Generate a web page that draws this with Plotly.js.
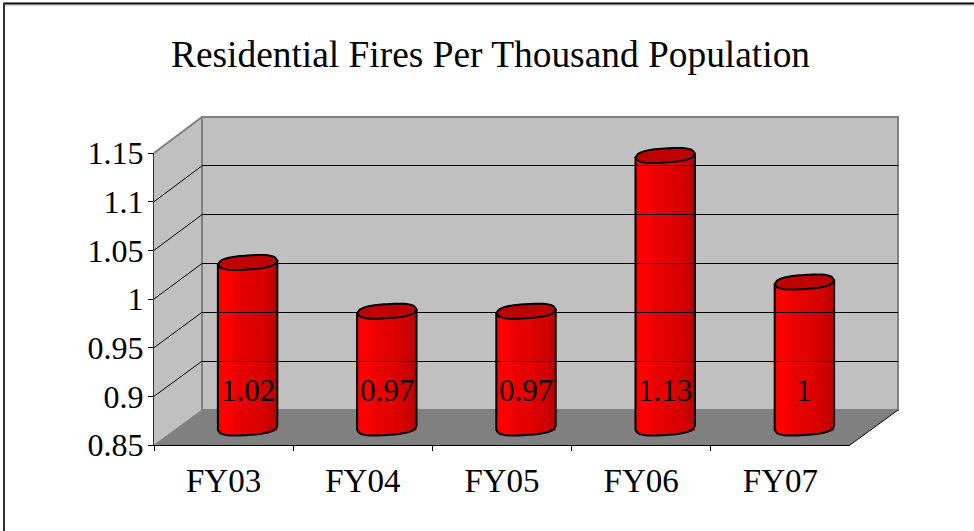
<!DOCTYPE html>
<html><head><meta charset="utf-8">
<script src="https://cdn.plot.ly/plotly-3.0.1.min.js"></script>
<style>html,body{margin:0;padding:0;background:#fff}#c{width:974px;height:531px}</style>
</head><body><div id="c"></div>
<script>
const categories = ['FY03','FY04','FY05','FY06','FY07'];
const values = [1.02,0.97,0.97,1.13,1];
const labels = ['1.02','0.97','0.97','1.13','1'];
const yTicks = [0.85,0.9,0.95,1,1.05,1.1,1.15];
const yTickText = ['0.85','0.9','0.95','1','1.05','1.1','1.15'];
const stripColors = ['#f60000','#ff0000','#ff0000','#ff0000','#fa0000','#f00000','#e80000','#e60000','#e60000','#e60000','#e40000','#e40000','#dc0000','#d80000','#d80000','#d40000','#d00000','#c80000','#c00000','#bc0000'];

const W=974,H=531, FONT='"Liberation Serif","Times New Roman",serif';
const fx=v=>v/W, fy=v=>1-v/H;
const front={l:154,r:850,t:153,b:445}, back={l:202,r:898,t:117,b:410}, mid={l:178,r:874,t:136,b:428};
const R=[0.85,1.15];
const unitPx=(front.b-front.t)/(R[1]-R[0]);
const extra=14; // room under the bar plane for the rounded cylinder bottoms
const dom=p=>({x:[fx(p.l),fx(p.r)],y:[fy(p.b),fy(p.t)]});
const midDom={x:dom(mid).x,y:[fy(mid.b+extra),fy(mid.t-extra)]};
const R2=[R[0]-extra/unitPx,R[1]+extra/unitPx];
const halfW=0.2135, ry=7/unitPx, tilt=2/unitPx, n=stripColors.length, sw=2*halfW/n;
const bulge=u=>Math.sqrt(Math.max(0,1-Math.pow(Math.abs(u),3)));
const lift=u=>-ry*bulge(u)+tilt*u;

const traces=stripColors.map((c,j)=>{
  const u=-1+(2*j+1)/n, d=lift(u);
  return {type:'bar',xaxis:'x2',yaxis:'y2',x:categories.map((_,i)=>i),
    base:values.map(()=>R[0]+d),y:values.map(v=>v-R[0]),
    width:j===n-1?sw:sw*2,offset:-halfW+j*sw,marker:{color:c,line:{width:0}},hoverinfo:'skip',showlegend:false};
});
traces.push({type:'scatter',xaxis:'x',yaxis:'y',x:categories,y:values,mode:'none',showlegend:false,hoverinfo:'skip'});
traces.push({type:'scatter',xaxis:'x3',yaxis:'y3',x:[0],y:[1],mode:'none',showlegend:false,hoverinfo:'skip'});

const poly=pts=>'M'+pts.map(p=>p[0].toFixed(4)+','+p[1].toFixed(5)).join('L');
const shapes=[];
const P=(x,y)=>fx(x)+','+fy(y);
const wall=(pts,fill)=>({type:'path',xref:'paper',yref:'paper',layer:'below',path:'M'+pts.map(p=>P(p[0],p[1])).join('L')+'Z',fillcolor:fill,line:{width:0}});
const seg=(a,b,c,w)=>({type:'line',xref:'paper',yref:'paper',layer:'below',x0:fx(a[0]),y0:fy(a[1]),x1:fx(b[0]),y1:fy(b[1]),line:{color:c,width:w}});
shapes.push(wall([[front.l,front.b],[back.l,back.b],[back.r,back.b],[front.r,front.b]],'#808080'));
shapes.push(wall([[front.l,front.t],[back.l,back.t],[back.l,back.b],[front.l,front.b]],'#c0c0c0'));
shapes.push({type:'rect',xref:'paper',yref:'paper',layer:'below',x0:fx(back.l),x1:fx(back.r),y0:fy(back.b),y1:fy(back.t),fillcolor:'#c0c0c0',line:{color:'#808080',width:2}});
shapes.push(seg([front.l,front.t],[back.l,back.t],'#808080',2));
yTicks.slice(1,-1).forEach(t=>{
  const f=(t-R[0])/(R[1]-R[0]);
  shapes.push(seg([front.l,front.b-f*(front.b-front.t)],[back.l,back.b-f*(back.b-back.t)],'#000',1));
});
shapes.push(seg([front.l,front.b],[back.l,back.b],'#808080',1));
shapes.push(seg([front.r,front.b],[back.r,back.b],'#000',1));
// frame: only top and left edges are visible
shapes.push(seg([3,3.5],[W,3.5],'#000',2));
shapes.push(seg([3,5],[W,5],'#999',1));
shapes.push(seg([4,3],[4,H],'#333',2));
values.forEach((v,i)=>{
  const m=24,top=[],low=[],rim=[];
  for(let k=0;k<=m;k++){const u=-1+2*k/m;
    top.push([i+u*halfW,v+lift(u)]);
    low.push([i+u*halfW,R[0]+lift(u)]);
    rim.push([i+u*halfW,v+ry*bulge(u)+tilt*u]);}
  const side=[...top.slice(0,1),...low,...top.slice(-1)];
  shapes.push({type:'path',xref:'x2',yref:'y2',layer:'above',path:poly(side),line:{color:'#000',width:2},fillcolor:'rgba(0,0,0,0)'});
  shapes.push({type:'path',xref:'x2',yref:'y2',layer:'above',path:poly([...top,...rim.slice().reverse()])+'Z',line:{color:'#000',width:2},fillcolor:'#bf0000'});
});
const anns=labels.map((t,i)=>({xref:'x2',yref:'y2',x:i,y:R[0]+38/unitPx,text:t,showarrow:false,xanchor:'center',yanchor:'middle',font:{family:FONT,size:31,color:'#000'}}));

const layout={width:W,height:H,margin:{l:0,r:0,t:0,b:0},paper_bgcolor:'#fff',plot_bgcolor:'rgba(0,0,0,0)',
  barmode:'overlay',showlegend:false,font:{family:FONT,color:'#000'},
  title:{text:'Residential Fires Per Thousand Population',font:{family:FONT,size:37.4,color:'#000'},x:490.5/W,xanchor:'center',y:1-54/H,yanchor:'middle'},
  xaxis:{domain:dom(front).x,anchor:'y',type:'category',categoryorder:'array',categoryarray:categories,range:[-0.5,4.5],tickson:'boundaries',ticks:'outside',ticklen:5,tickcolor:'#000',tickwidth:1,showline:true,linecolor:'#000',linewidth:1,showgrid:false,zeroline:false,tickfont:{family:FONT,size:33,color:'#000'},ticklabelstandoff:6},
  yaxis:{domain:dom(front).y,anchor:'x',range:R,tickvals:yTicks,ticktext:yTickText,ticks:'outside',ticklen:5,tickcolor:'#000',tickwidth:1,showline:true,linecolor:'#333',linewidth:1,showgrid:false,zeroline:false,tickfont:{family:FONT,size:32,color:'#000'},ticklabelstandoff:-2},
  xaxis2:{domain:midDom.x,anchor:'y2',range:[-0.5,4.5],visible:false},
  yaxis2:{domain:midDom.y,anchor:'x2',range:R2,visible:false},
  xaxis3:{domain:dom(back).x,anchor:'y3',range:[0,1],visible:false},
  yaxis3:{domain:dom(back).y,anchor:'x3',range:R,tickvals:yTicks.slice(1,-1),showgrid:true,gridcolor:'#000',gridwidth:1,showticklabels:false,ticks:'',zeroline:false,showline:false},
  shapes,annotations:anns};
Plotly.newPlot('c',traces,layout,{displayModeBar:false,staticPlot:true});
</script></body></html>
